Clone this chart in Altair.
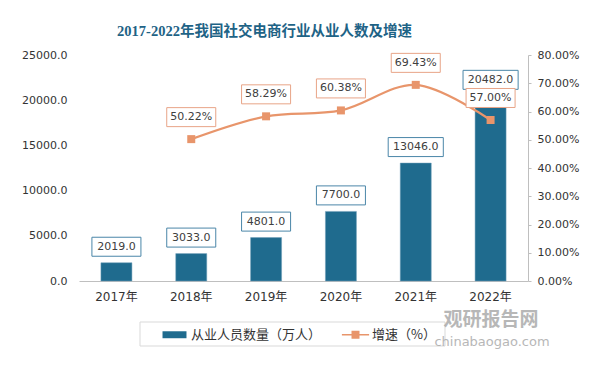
import altair as alt
import pandas as pd

years = ["2017年", "2018年", "2019年", "2020年", "2021年", "2022年"]
workers = [2019.0, 3033.0, 4801.0, 7700.0, 13046.0, 20482.0]
growth = [None, 50.22, 58.29, 60.38, 69.43, 57.00]
series = ["从业人员数量（万人）", "增速（%）"]

TEAL = "#1f6b8e"
ORANGE = "#e8956b"
FONT = "DejaVu Sans, Noto Sans CJK SC"

BOX6 = "M-2.58,-1H2.58V1H-2.58Z"
BOX7 = "M-2.9,-1H2.9V1H-2.9Z"

df = pd.DataFrame({"year": years, "workers": workers, "growth": growth})
df["box"] = [BOX7 if len(f"{w:.1f}") > 6 else BOX6 for w in workers]
gdf = df.dropna(subset=["growth"]).copy()
gdf["plabel"] = [f"{g:.2f}%" for g in gdf["growth"]]

x = alt.X("year:N", sort=years, title=None,
          scale=alt.Scale(paddingInner=0.59, paddingOuter=0.295),
          axis=alt.Axis(labelAngle=0, ticks=False, domainColor="#bfbfbf",
                        labelFont=FONT, labelFontSize=12, labelColor="#333333",
                        labelPadding=10))

yl = alt.Y("workers:Q", title=None,
           scale=alt.Scale(domain=[0, 25000]),
           axis=alt.Axis(values=[0, 5000, 10000, 15000, 20000, 25000], format=".1f",
                         grid=False, domain=False, ticks=False, labelPadding=12,
                         labelFont=FONT, labelFontSize=11, labelColor="#333333"))

yr = alt.Y("growth:Q", title=None,
           scale=alt.Scale(domain=[0, 80]),
           axis=alt.Axis(orient="right", values=[0, 10, 20, 30, 40, 50, 60, 70, 80],
                         labelExpr="format(datum.value, '.2f') + '%'",
                         grid=False, domain=True, domainColor="#bfbfbf",
                         ticks=True, tickColor="#bfbfbf", tickSize=3, labelPadding=6,
                         labelFont=FONT, labelFontSize=11, labelColor="#333333"))

base = alt.Chart(df)
bars = base.mark_bar(size=31, color=TEAL, stroke="#6f9fb8", strokeWidth=0.5).encode(x=x, y=yl)
bboxes = base.mark_point(filled=True, fill="white", stroke="#4a86a8", strokeWidth=1,
                         opacity=1, size=361, yOffset=-16).encode(
    x=x, y=yl, shape=alt.Shape("box:N", scale=None))
btext = base.mark_text(yOffset=-16, baseline="middle", font=FONT, fontSize=11,
                       color="#404040").encode(
    x=x, y=yl, text=alt.Text("workers:Q", format=".1f"))
left = alt.layer(bars, bboxes, btext)

gbase = alt.Chart(gdf)
line = gbase.mark_line(color=ORANGE, strokeWidth=2.2, interpolate="catmull-rom").encode(x=x, y=yr)
marks = gbase.mark_square(color=ORANGE, size=64, opacity=1).encode(x=x, y=yr)
pboxes = gbase.mark_point(filled=True, fill="white", stroke="#e8a487", strokeWidth=1,
                          opacity=1, size=361, shape=BOX6, yOffset=-22).encode(x=x, y=yr)
ptext = gbase.mark_text(yOffset=-22, baseline="middle", font=FONT, fontSize=11,
                        color="#404040").encode(x=x, y=yr, text="plabel:N")
right = alt.layer(line, marks, pboxes, ptext)

# legend frame (decoration only)
frame = alt.Chart(pd.DataFrame({"f": [0]})).mark_rect(
    fill="white", stroke="#d9d9d9", strokeWidth=1).encode(
    x=alt.value(61), x2=alt.value(366), y=alt.value(267), y2=alt.value(291))

ldf = pd.DataFrame({"series": series})
carrier = alt.Chart(ldf).mark_point(filled=True, opacity=0).encode(
    color=alt.Color("series:N", scale=alt.Scale(domain=series, range=[TEAL, ORANGE]),
                    legend=alt.Legend(
                        title=None, orient="none", direction="horizontal",
                        legendX=83, legendY=267,
                        symbolOpacity=1, symbolStrokeWidth=0, symbolSize=289,
                        labelFont="Noto Sans CJK SC", labelFontSize=13,
                        labelColor="#333333", labelOffset=8, columnPadding=19,
                        padding=4)),
    shape=alt.Shape("series:N", scale=alt.Scale(
        domain=series,
        range=["M-1.41,-0.41H1.41V0.41H-1.41Z",
               "M-1.6,-0.1H1.6V0.1H-1.6Z M-0.47,-0.47H0.47V0.47H-0.47Z"]))
)

wm = pd.DataFrame({"a": ["观研报告网"], "b": ["chinabaogao.com"]})
wm1 = alt.Chart(wm).mark_text(font="Noto Sans CJK SC", fontSize=19, fontWeight="bold",
                              color="#a6a6a6", opacity=0.8).encode(
    text="a:N", x=alt.value(412), y=alt.value(265))
wm2 = alt.Chart(wm).mark_text(font=FONT, fontSize=13, color="#a6a6a6", opacity=0.8).encode(
    text="b:N", x=alt.value(413), y=alt.value(287))

chart = alt.layer(left, right, frame, carrier, wm1, wm2).resolve_scale(y="independent").properties(
    width=449, height=226,
    autosize=alt.AutoSizeParams(type="none"),
    padding={"left": 71, "top": 47, "right": 65, "bottom": 77},
    background="white",
    title=alt.TitleParams("2017-2022年我国社交电商行业从业人数及增速",
                          font="Liberation Serif, Noto Sans CJK SC", fontSize=14.5,
                          fontWeight="bold", color="#1e6386", anchor="middle",
                          dx=-39, offset=10),
).configure_view(stroke=None, fill="#efefef")

chart.save("out.html", embed_options={"renderer": "svg", "actions": False})
